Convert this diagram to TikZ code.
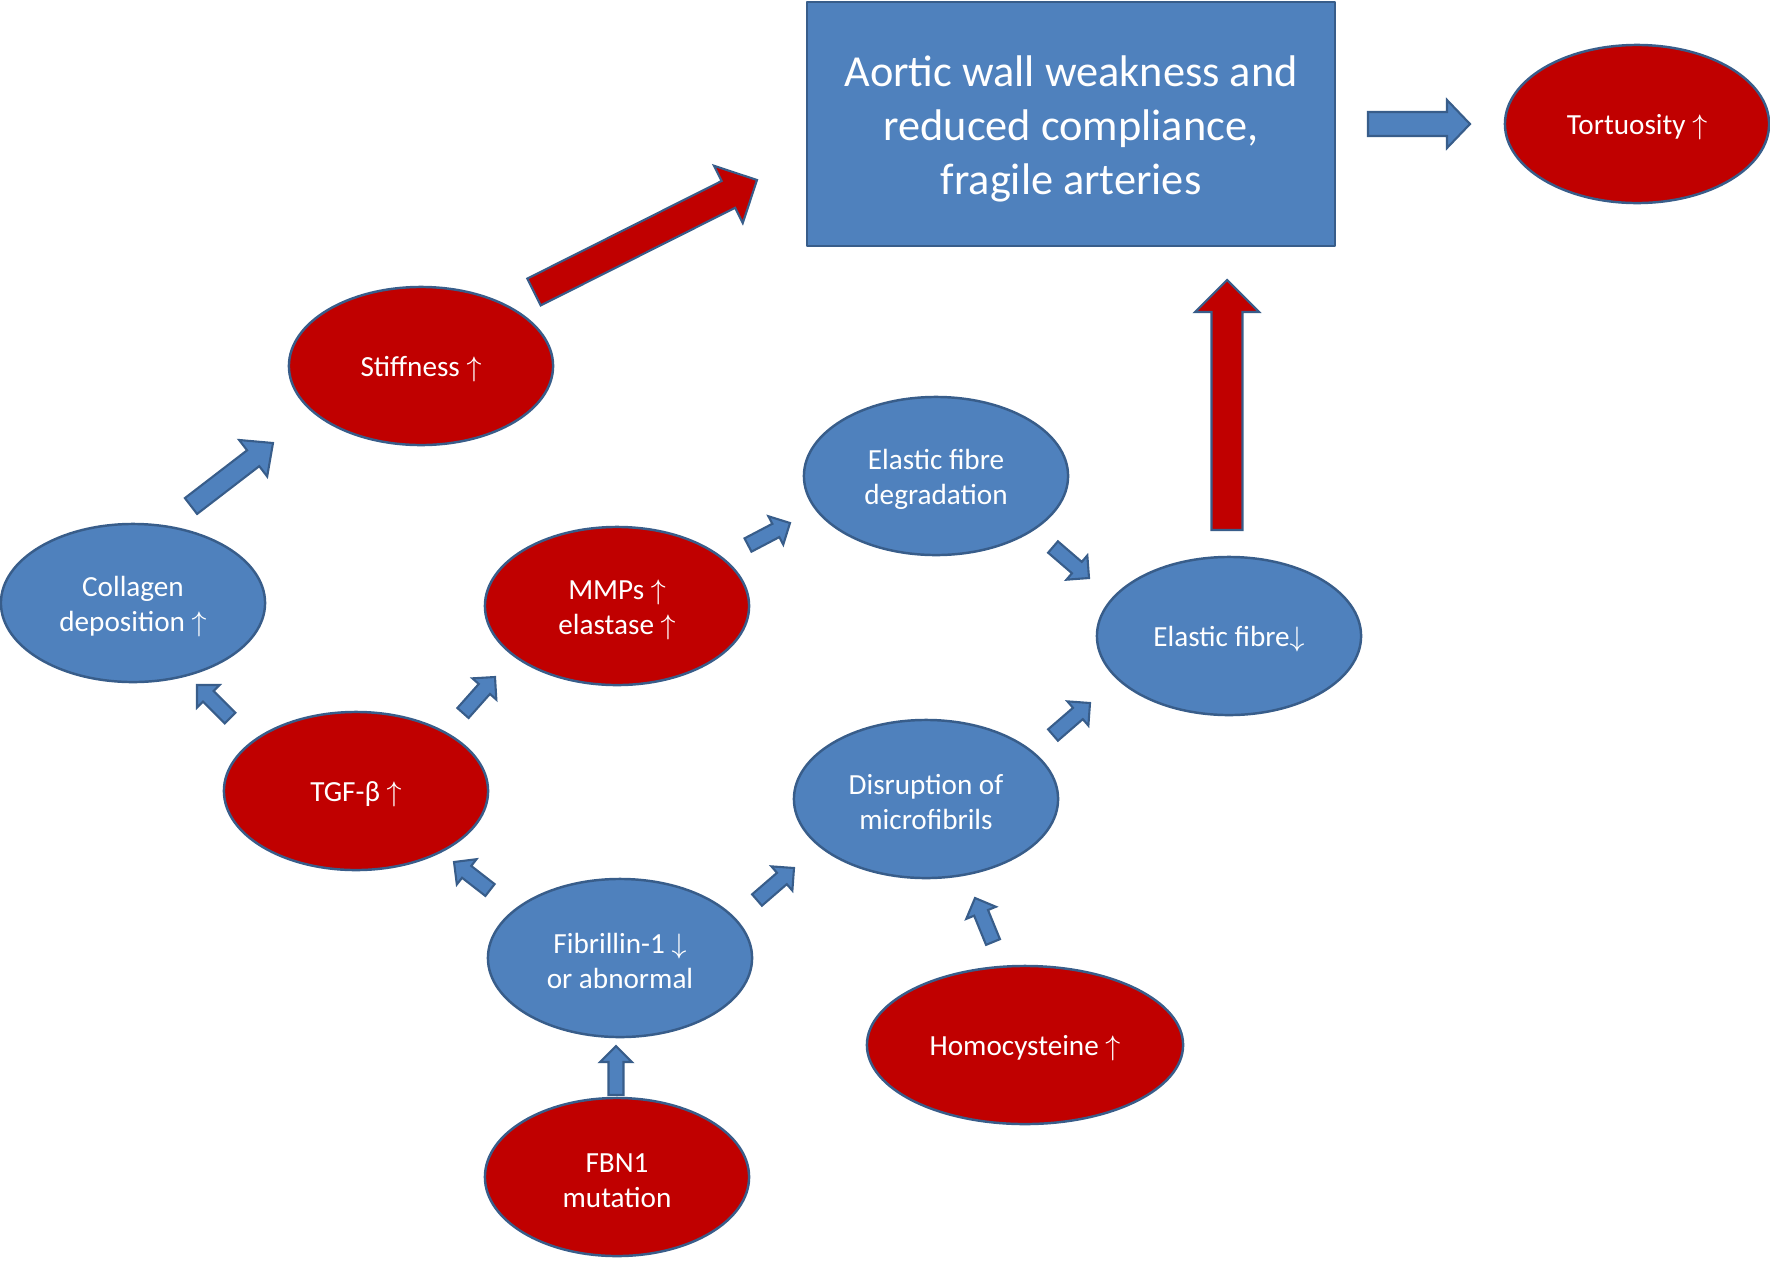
\documentclass[tikz,border=0pt]{standalone}
\usepackage{fontspec}
\setmainfont{Carlito}
\usepackage{tikz}
\usetikzlibrary{shapes.geometric,calc}
\definecolor{wallblue}{HTML}{4F81BD}
\definecolor{wallred}{HTML}{C00000}
\definecolor{rim}{HTML}{385D8A}
\newcommand{\upar}{~$\uparrow$}
\newcommand{\dnar}{~$\downarrow$}
% taller first line, so the text sits a little lower in its shape
\newcommand{\linebox}{\vrule width 0pt height 0.92em}
\tikzset{
  every picture/.style={line join=round, line cap=round},
  every node/.style={execute at begin node=\linebox},
  oval/.style={ellipse, draw=rim, line width=0.7pt, text=white, align=center,
    inner sep=0pt, minimum width=2.64cm, minimum height=1.58cm,
    font=\fontsize{8.3}{9.9}\selectfont},
  raised/.style={oval, fill=wallred},
  lowered/.style={oval, fill=wallblue},
  fat/.style={draw=rim, line width=0.6pt, line join=miter},
}
% block arrow: [style]{tail}{tip}{half shaft}{half head}{head length}
\newcommand{\fatarrow}[6][]{%
  \draw[fat,#1] ($(#2)!#4!90:(#3)$) -- ($(#3)!#6!(#2)!#4!-90:(#2)$)
    -- ($(#3)!#6!(#2)!#5!-90:(#2)$) -- (#3) -- ($(#3)!#6!(#2)!#5!90:(#2)$)
    -- ($(#3)!#6!(#2)!#4!90:(#2)$) -- ($(#2)!#4!-90:(#3)$) -- cycle;}

\begin{document}
\begin{tikzpicture}[x=0.01cm,y=-0.01cm]
\useasboundingbox (0,0) rectangle (1770,1260);

\node[draw=rim, fill=wallblue, line width=0.7pt, text=white, align=center,
  minimum width=5.28cm, minimum height=2.44cm,
  font=\fontsize{12.6}{15.4}\selectfont] (weak) at (1071,124)
  {\linebox Aortic wall weakness and\\reduced compliance,\\fragile arteries};
\node[raised] (tort) at (1637,124) {Tortuosity\upar};
\node[raised] (stiff) at (421,366) {Stiffness\upar};
\node[lowered] (deg) at (936,476) {\linebox Elastic fibre\\degradation};
\node[raised] (mmp) at (617,606) {\linebox MMPs\upar\\elastase\upar};
\node[lowered] (coll) at (133,603) {\linebox Collagen\\deposition\upar};
\node[lowered] (loss) at (1229,636) {Elastic fibre$\downarrow$};
\node[raised] (tgf) at (356,791) {TGF-β\upar};
\node[lowered] (disr) at (926,799) {\linebox Disruption of\\microfibrils};
\node[lowered] (fbl) at (620,958) {\linebox Fibrillin-1\dnar\\or abnormal};
\node[raised, minimum width=3.16cm] (hcy) at (1025,1045) {Homocysteine\upar};
\node[raised] (fbn) at (617,1177) {\linebox FBN1\\mutation};

% arrow ends
\coordinate (stiff-a) at (534,292);  \coordinate (stiff-b) at (757,180);
\coordinate (loss-a) at (1227,530);  \coordinate (loss-b) at (1227,280);
\coordinate (weak-a) at (1368,124);  \coordinate (weak-b) at (1470,124);
\coordinate (coll-a) at (191,506);   \coordinate (coll-b) at (273,443);
\coordinate (tgf-a) at (230,718);    \coordinate (tgf-b) at (197,685);
\coordinate (tgf-c) at (463,713);    \coordinate (tgf-d) at (495,677);
\coordinate (mmp-a) at (748,545);    \coordinate (mmp-b) at (790,523);
\coordinate (deg-a) at (1053,547);   \coordinate (deg-b) at (1089,578);
\coordinate (disr-a) at (1053,735);  \coordinate (disr-b) at (1090,703);
\coordinate (fbl-a) at (490,890);    \coordinate (fbl-b) at (454,862);
\coordinate (fbl-c) at (757,900);    \coordinate (fbl-d) at (794,868);
\coordinate (hcy-a) at (993,942);    \coordinate (hcy-b) at (975,898);
\coordinate (fbn-a) at (616,1095);   \coordinate (fbn-b) at (616,1046);

\fatarrow[fill=wallred]{stiff-a}{stiff-b}{0.15cm}{0.32cm}{0.32cm}
\fatarrow[fill=wallred]{loss-a}{loss-b}{0.155cm}{0.32cm}{0.32cm}
\fatarrow[fill=wallblue]{weak-a}{weak-b}{0.12cm}{0.24cm}{0.23cm}
\fatarrow[fill=wallblue]{coll-a}{coll-b}{0.1cm}{0.23cm}{0.25cm}
\foreach \s/\t in {tgf-a/tgf-b, tgf-c/tgf-d, mmp-a/mmp-b, deg-a/deg-b,
    disr-a/disr-b, fbl-a/fbl-b, fbl-c/fbl-d, hcy-a/hcy-b, fbn-a/fbn-b}
  \fatarrow[fill=wallblue]{\s}{\t}{0.075cm}{0.16cm}{0.16cm};
\end{tikzpicture}
\end{document}
